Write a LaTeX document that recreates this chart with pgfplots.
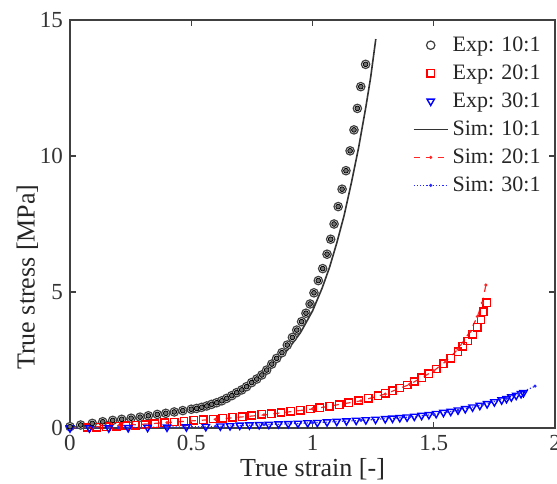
\documentclass[border=0pt]{standalone}
\usepackage{fontspec}
\setmainfont{Liberation Serif}
\usepackage{pgfplots}
\pgfplotsset{compat=1.18}

\pgfplotstableread{
x y
0.000 0.05
0.044 0.11
0.092 0.17
0.135 0.23
0.176 0.28
0.213 0.32
0.252 0.36
0.289 0.40
0.323 0.45
0.360 0.50
0.395 0.54
0.430 0.59
0.465 0.64
0.500 0.69
0.522 0.72
0.543 0.76
0.564 0.81
0.584 0.87
0.605 0.93
0.626 1.00
0.646 1.09
0.667 1.19
0.687 1.30
0.708 1.40
0.728 1.52
0.749 1.67
0.770 1.80
0.791 1.95
0.811 2.13
0.832 2.35
0.852 2.56
0.874 2.77
0.896 3.05
0.917 3.33
0.935 3.60
0.955 3.91
0.973 4.22
0.990 4.56
1.006 4.97
1.024 5.42
1.042 5.86
1.060 6.39
1.075 6.94
1.089 7.50
1.106 8.14
1.122 8.78
1.138 9.46
1.155 10.19
1.171 10.96
1.185 11.75
1.199 12.55
1.219 13.37
}\expten

\pgfplotstableread{
x y
0.07 0.02
0.11 0.03
0.15 0.05
0.19 0.06
0.23 0.08
0.27 0.10
0.31 0.13
0.35 0.16
0.39 0.19
0.43 0.22
0.47 0.25
0.51 0.28
0.55 0.30
0.59 0.33
0.63 0.36
0.67 0.39
0.71 0.42
0.75 0.46
0.79 0.50
0.83 0.53
0.87 0.57
0.91 0.61
0.95 0.65
0.99 0.70
1.03 0.75
1.07 0.80
1.11 0.86
1.15 0.93
1.19 1.01
1.23 1.09
1.27 1.19
1.30 1.28
1.33 1.37
1.36 1.47
1.39 1.58
1.42 1.71
1.45 1.85
1.48 2.00
1.51 2.17
1.54 2.36
1.57 2.57
1.60 2.81
1.62 3.00
1.64 3.20
1.66 3.44
1.68 3.70
1.695 3.98
1.705 4.28
1.718 4.60
}\exptwenty

\pgfplotstableread{
x y
0.00 0.00
0.08 0.00
0.16 0.00
0.24 0.01
0.32 0.02
0.40 0.03
0.48 0.04
0.56 0.05
0.62 0.07
0.66 0.08
0.70 0.10
0.74 0.11
0.78 0.12
0.82 0.13
0.86 0.15
0.90 0.16
0.94 0.17
0.98 0.19
1.02 0.20
1.06 0.22
1.10 0.24
1.14 0.26
1.18 0.28
1.22 0.30
1.26 0.32
1.30 0.34
1.33 0.36
1.36 0.38
1.39 0.40
1.42 0.43
1.45 0.46
1.48 0.49
1.51 0.53
1.54 0.57
1.57 0.61
1.60 0.66
1.63 0.71
1.66 0.77
1.69 0.83
1.72 0.89
1.75 0.96
1.78 1.03
1.80 1.08
1.82 1.14
1.84 1.20
1.86 1.26
1.87 1.30
}\expthirty

\begin{document}
\begin{tikzpicture}
\begin{axis}[
  scale only axis, width=242.5pt, height=204pt,
  xmin=0, xmax=2, ymin=0, ymax=15,
  xtick={0,0.5,1,1.5,2}, ytick={0,5,10,15},
  xticklabels={0,0.5,1,1.5,2},
  tick pos=both, tick align=inside, major tick length=3pt,
  axis line style={black!75, line width=0.7pt},
  every tick/.style={black!75, line width=0.6pt},
  /pgf/number format/assume math mode=true,
  tick label style={font=\fontsize{11.5}{13}\selectfont, text=black!80},
  label style={font=\fontsize{13}{15}\selectfont, text=black!85},
  xlabel={True strain [-]},
  ylabel={True stress [MPa]},
  xlabel style={yshift=3pt},
  ylabel style={at={(axis description cs:-0.088,0.37)}, anchor=center},
  clip=false,
  legend style={at={(1,1)}, anchor=north east, draw=none, fill=none,
    font=\fontsize{11}{12}\selectfont, text=black!85, row sep=1.2pt,
    xshift=-2pt, yshift=-4pt},
  legend cell align=left,
]
\addplot[only marks, mark=*, mark size=2.1pt,
  mark options={draw=black!75, fill=white, line width=0.6pt}] table {\expten};
\addlegendentry{Exp: 10:1}
\addplot[only marks, mark=square, mark size=1.85pt,
  mark options={draw=red, line width=0.75pt}] table {\exptwenty};
\addlegendentry{Exp: 20:1}
\addplot[only marks, mark=triangle, mark size=2.1pt,
  mark options={draw=blue, line width=0.7pt, rotate=180}] table {\expthirty};
\addlegendentry{Exp: 30:1}
\addplot[black!80, line width=0.8pt] coordinates {
(0,0) (0.1,0.15) (0.2,0.28) (0.3,0.40) (0.4,0.52) (0.5,0.66) (0.6,0.90)
(0.7,1.30) (0.76,1.65) (0.8,1.95) (0.85,2.40) (0.9,2.90) (0.95,3.50)
(1.0,4.30) (1.04,5.15) (1.07,5.9) (1.1,6.8) (1.13,7.8) (1.16,9.0)
(1.19,10.3) (1.22,11.8) (1.24,12.9) (1.261,14.3)};
\addlegendentry{Sim: 10:1}
\addplot[red!85, dashed, line width=0.6pt, mark=*, mark size=0.45pt,
  mark options={solid}] coordinates {
(0,0) (0.2,0.08) (0.4,0.2) (0.6,0.32) (0.8,0.48) (1.0,0.7) (1.2,1.0)
(1.3,1.25) (1.4,1.6) (1.5,2.1) (1.55,2.45) (1.6,2.9) (1.65,3.55)
(1.68,4.1) (1.7,4.6) (1.715,5.26)};
\addlegendentry{Sim: 20:1}
\addplot[blue!85, densely dotted, line width=0.6pt, mark=*, mark size=0.45pt,
  mark options={solid}] coordinates {
(0,0) (0.2,0.01) (0.4,0.03) (0.6,0.06) (0.8,0.12) (1.0,0.19) (1.2,0.28)
(1.4,0.4) (1.5,0.5) (1.6,0.65) (1.7,0.85) (1.8,1.1) (1.85,1.26) (1.918,1.54)};
\addlegendentry{Sim: 30:1}
% gray centres of the 10:1 circles
\addplot[only marks, mark=*, mark size=1.2pt,
  mark options={draw=none, fill=black!55}, forget plot] table {\expten};
\coordinate (sw) at (rel axis cs:0,0);
\coordinate (ne) at (rel axis cs:1,1);
\end{axis}
\pgfresetboundingbox
\path[use as bounding box] ([xshift=-35pt,yshift=-27.5pt]sw) rectangle ([xshift=1pt,yshift=10pt]ne);
\end{tikzpicture}
\end{document}
